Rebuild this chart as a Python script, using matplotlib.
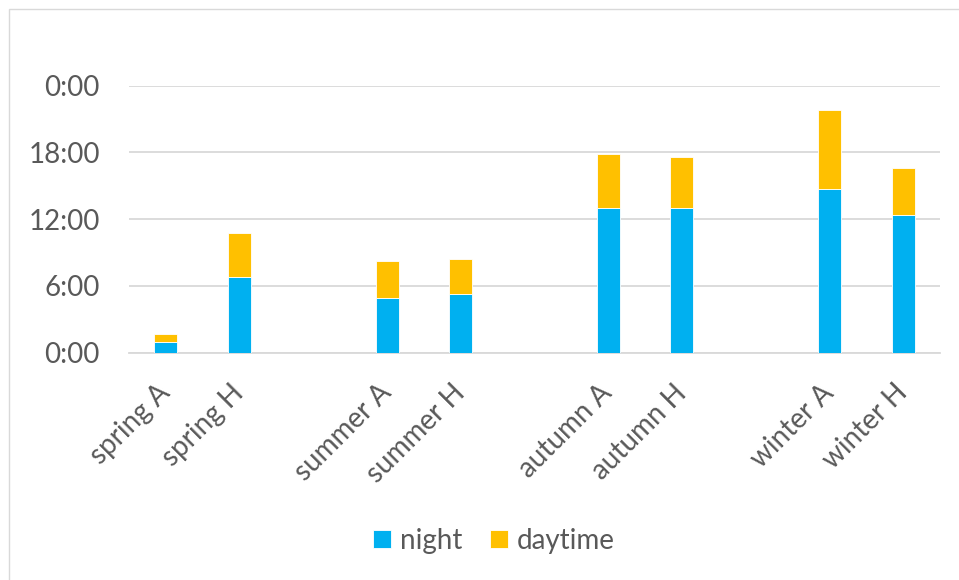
import numpy as np
import matplotlib.pyplot as plt
from matplotlib.patches import Rectangle
from matplotlib.ticker import FuncFormatter

# hours per category
categories = ["spring A", "spring H", "summer A", "summer H",
              "autumn A", "autumn H", "winter A", "winter H"]
night = [1.0, 6.8, 4.95, 5.25, 13.05, 13.05, 14.75, 12.4]
daytime = [0.68, 3.93, 3.25, 3.15, 4.8, 4.5, 7.05, 4.2]

night_color = "#00B0F0"
day_color = "#FFC000"
text_color = "#595959"
grid_color = "#D9D9D9"

plt.rcParams["font.family"] = ["Lato", "DejaVu Sans"]

fig = plt.figure(figsize=(9.59, 5.8), dpi=100)
ax = fig.add_axes([129 / 959, 1 - 352.7 / 580, (940 - 129) / 959, (352.7 - 85.7) / 580])

# two bars per season, one empty slot between seasons
x = np.arange(len(categories)) + np.arange(len(categories)) // 2
width = 0.312

ax.bar(x, night, width, color=night_color, edgecolor="white", linewidth=0.6,
       label="night", zorder=3)
ax.bar(x, daytime, width, bottom=night, color=day_color, edgecolor="white",
       linewidth=0.6, label="daytime", zorder=3)

ax.set_xlim(-0.5, x[-1] + 0.5)
ax.set_ylim(0, 24)
ax.set_yticks([0, 6, 12, 18, 24])


def hour_fmt(v, pos):
    h = int(round(v * 60)) // 60
    m = int(round(v * 60)) % 60
    return f"{h % 24}:{m:02d}"


ax.yaxis.set_major_formatter(FuncFormatter(hour_fmt))
ax.yaxis.grid(True, color=grid_color, linewidth=1.3, zorder=0)
ax.set_axisbelow(True)

ax.set_xticks(x)
ax.set_xticklabels(categories, rotation=45, ha="right", va="center",
                   rotation_mode="anchor")

for s in ["top", "right", "left"]:
    ax.spines[s].set_visible(False)
ax.spines["bottom"].set_color(grid_color)
ax.spines["bottom"].set_linewidth(1.3)

ax.tick_params(axis="y", length=0, pad=21, labelsize=20, labelcolor=text_color)
ax.tick_params(axis="x", length=0, pad=26, labelsize=20, labelcolor=text_color)

leg = fig.legend(loc="center", bbox_to_anchor=(494 / 959, 1 - 541 / 580), ncol=2,
                 frameon=False, fontsize=20, handlelength=0.64, handleheight=0.64,
                 handletextpad=0.32, columnspacing=1.0, borderaxespad=0)
for t in leg.get_texts():
    t.set_color(text_color)

# chart area border
fig.patches.append(Rectangle((8.5 / 959, -0.1), 1.2, 1.1 - 8.5 / 580,
                             transform=fig.transFigure, fill=False,
                             edgecolor=grid_color, linewidth=1.0))

fig.savefig("out.png", dpi=100)
